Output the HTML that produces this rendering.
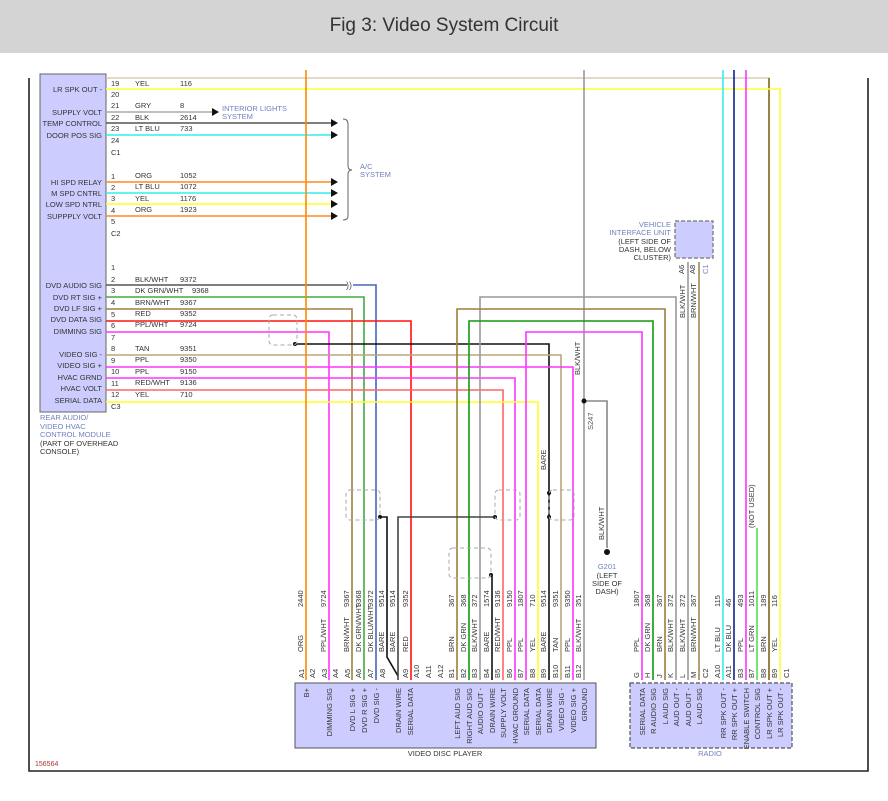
<!DOCTYPE html>
<html><head><meta charset="utf-8"><style>
html,body{margin:0;padding:0;background:#fff;}
svg{display:block;font-family:"Liberation Sans",Arial,sans-serif;}
.t{font-size:7.5px;fill:#333;}
.b{font-size:7.5px;fill:#7080c0;}
.w{fill:none;stroke-width:1.6;}
</style></head><body>
<svg width="888" height="801" viewBox="0 0 888 801" xmlns="http://www.w3.org/2000/svg">
<rect x="0" y="0" width="888" height="53" fill="#d4d4d4"/>
<text x="444" y="31" font-size="19" fill="#333" text-anchor="middle">Fig 3: Video System Circuit</text>
<!-- frame -->
<path d="M29 78 V771 H868 V78" fill="none" stroke="#222" stroke-width="1.6"/>
<!-- module -->
<rect x="40" y="74" width="66" height="338" fill="#ccccff" stroke="#666" stroke-width="1"/>
<g class="t" text-anchor="end">
<text x="102" y="92">LR SPK OUT -</text><text x="102" y="115">SUPPLY VOLT</text><text x="102" y="126">TEMP CONTROL</text><text x="102" y="138">DOOR POS SIG</text>
<text x="102" y="185">HI SPD RELAY</text><text x="102" y="196">M SPD CNTRL</text><text x="102" y="207">LOW SPD NTRL</text><text x="102" y="219">SUPPPLY VOLT</text>
<text x="102" y="288">DVD AUDIO SIG</text><text x="102" y="300">DVD RT SIG +</text><text x="102" y="311">DVD LF SIG +</text><text x="102" y="322">DVD DATA SIG</text><text x="102" y="334">DIMMING SIG</text>
<text x="102" y="357">VIDEO SIG -</text><text x="102" y="368">VIDEO SIG +</text><text x="102" y="380">HVAC GRND</text><text x="102" y="391">HVAC VOLT</text><text x="102" y="403">SERIAL DATA</text>
</g>
<g class="b"><text x="40" y="420">REAR AUDIO/</text><text x="40" y="429">VIDEO HVAC</text><text x="40" y="437">CONTROL MODULE</text></g>
<g class="t"><text x="40" y="446">(PART OF OVERHEAD</text><text x="40" y="454">CONSOLE)</text></g>
<g class="t">
<text x="111" y="86">19</text><text x="111" y="97">20</text><text x="111" y="108">21</text><text x="111" y="120">22</text><text x="111" y="131">23</text><text x="111" y="143">24</text><text x="111" y="155">C1</text>
<text x="111" y="179">1</text><text x="111" y="190">2</text><text x="111" y="201">3</text><text x="111" y="213">4</text><text x="111" y="224">5</text><text x="111" y="236">C2</text>
<text x="111" y="270">1</text><text x="111" y="282">2</text><text x="111" y="293">3</text><text x="111" y="305">4</text><text x="111" y="317">5</text><text x="111" y="328">6</text><text x="111" y="340">7</text><text x="111" y="351">8</text><text x="111" y="363">9</text><text x="111" y="374">10</text><text x="111" y="386">11</text><text x="111" y="397">12</text><text x="111" y="409">C3</text>
<text x="135" y="86">YEL</text><text x="180" y="86">116</text>
<text x="135" y="108">GRY</text><text x="180" y="108">8</text>
<text x="135" y="120">BLK</text><text x="180" y="120">2614</text>
<text x="135" y="131">LT BLU</text><text x="180" y="131">733</text>
<text x="135" y="178">ORG</text><text x="180" y="178">1052</text>
<text x="135" y="189">LT BLU</text><text x="180" y="189">1072</text>
<text x="135" y="201">YEL</text><text x="180" y="201">1176</text>
<text x="135" y="212">ORG</text><text x="180" y="212">1923</text>
<text x="135" y="282">BLK/WHT</text><text x="180" y="282">9372</text>
<text x="135" y="293">DK GRN/WHT</text><text x="192" y="293">9368</text>
<text x="135" y="305">BRN/WHT</text><text x="180" y="305">9367</text>
<text x="135" y="316">RED</text><text x="180" y="316">9352</text>
<text x="135" y="327">PPL/WHT</text><text x="180" y="327">9724</text>
<text x="135" y="351">TAN</text><text x="180" y="351">9351</text>
<text x="135" y="362">PPL</text><text x="180" y="362">9350</text>
<text x="135" y="374">PPL</text><text x="180" y="374">9150</text>
<text x="135" y="385">RED/WHT</text><text x="180" y="385">9136</text>
<text x="135" y="397">YEL</text><text x="180" y="397">710</text>
</g>
<g class="b"><text x="222" y="111">INTERIOR LIGHTS</text><text x="222" y="119">SYSTEM</text><text x="360" y="169">A/C</text><text x="360" y="177">SYSTEM</text></g>
<!-- A/C brace -->
<path d="M343 119 Q348 119 348 124 V166 Q348 170 352 170 Q348 170 348 174 V216 Q348 220 343 220" fill="none" stroke="#666" stroke-width="1"/>
<!-- horizontal wires -->
<g class="w">
<path d="M106 78 H769 V680" stroke="#d8ceb0"/>
<path d="M769 78 V680" stroke="#8a6a20"/>
<path d="M106 89 H780 V680" stroke="#ffff33"/>
<path d="M106 112 H212" stroke="#aaa"/>
<path d="M106 123 H331" stroke="#555"/>
<path d="M106 135 H331" stroke="#33eeee"/>
<path d="M106 182 H331" stroke="#ff8822"/>
<path d="M106 193 H331" stroke="#33eeee"/>
<path d="M106 204 H331" stroke="#ffff22"/>
<path d="M106 216 H331" stroke="#ff8822"/>
<path d="M106 285 H347" stroke="#555"/>
<path d="M353 285 H376 V680" stroke="#4466bb"/>
<path d="M106 297 H364 V680" stroke="#44aa44"/>
<path d="M106 309 H352 V680" stroke="#9c8040"/>
<path d="M106 321 H411 V680" stroke="#ff1111"/>
<path d="M106 332 H329 V680" stroke="#ff33ff"/>
<path d="M295 344 H549 V680" stroke="#111"/>
<path d="M106 355 H561 V680" stroke="#b8a878"/>
<path d="M106 367 H573 V680" stroke="#ff33ff"/>
<path d="M106 378 H515 V680" stroke="#ff33ff"/>
<path d="M106 390 H503 V680" stroke="#ff6666"/>
<path d="M106 402 H538 V680" stroke="#ffff22"/>
<path d="M306 70 V680" stroke="#ff8800"/>
<path d="M584 70 V680" stroke="#999"/>
<path d="M480 680 V297 H676 V680" stroke="#999"/>
<path d="M457 680 V309 H665 V680" stroke="#9c7f3a"/>
<path d="M469 680 V321 H653 V680" stroke="#119911"/>
<path d="M526 680 V332 H642 V680" stroke="#ff33ff"/>
<path d="M688 262 V680" stroke="#999"/>
<path d="M699 262 V680" stroke="#a08850"/>
<path d="M723 70 V680" stroke="#33eeee"/>
<path d="M734 70 V680" stroke="#112288"/>
<path d="M746 70 V680" stroke="#ff33ff"/>
<path d="M757 528 V680" stroke="#55dd55"/>
<path d="M380 517 H387 V657 L398 676" stroke="#111"/>
<path d="M398 680 V517 H495" stroke="#444"/>
<path d="M492 680 V575" stroke="#111"/>
<path d="M584 401 H607 V548" stroke="#888"/>
</g>
<!-- arrows -->
<g fill="#111">
<path d="M212 108 l7 4 l-7 4z"/>
<path d="M331 119 l7 4 l-7 4z"/><path d="M331 131 l7 4 l-7 4z"/>
<path d="M331 178 l7 4 l-7 4z"/><path d="M331 189 l7 4 l-7 4z"/><path d="M331 200 l7 4 l-7 4z"/><path d="M331 212 l7 4 l-7 4z"/>
<circle cx="295" cy="344" r="2"/><circle cx="380" cy="517" r="2"/><circle cx="495" cy="517" r="2"/><circle cx="549" cy="493" r="2"/><circle cx="549" cy="517" r="2"/><circle cx="491" cy="575" r="2"/><circle cx="584" cy="401" r="2.5"/><circle cx="607" cy="552" r="3"/>
</g>
<text x="346" y="288" font-size="9" fill="#555">))</text>
<!-- shields -->
<g fill="none" stroke="#aaa" stroke-dasharray="4,3" stroke-width="1">
<rect x="269" y="315" width="28" height="30" rx="4"/>
<rect x="346" y="490" width="34" height="30" rx="4"/>
<rect x="495" y="490" width="25" height="30" rx="4"/>
<rect x="549" y="490" width="25" height="30" rx="4"/>
<rect x="449" y="548" width="42" height="30" rx="4"/>
</g>
<!-- vertical labels center -->
<g class="t">
<text transform="translate(580,375) rotate(-90)">BLK/WHT</text>
<text transform="translate(593,430) rotate(-90)" fill="#555">S247</text>
<text transform="translate(546,470) rotate(-90)">BARE</text>
<text transform="translate(604,540) rotate(-90)">BLK/WHT</text>
<text transform="translate(754,528) rotate(-90)">(NOT USED)</text>
<text transform="translate(685,318) rotate(-90)">BLK/WHT</text>
<text transform="translate(696,318) rotate(-90)">BRN/WHT</text>
<text transform="translate(684,274) rotate(-90)">A6</text>
<text transform="translate(695,274) rotate(-90)">A8</text>
<text transform="translate(708,274) rotate(-90)" fill="#7080c0">C1</text>
</g>
<text x="607" y="569" class="b" text-anchor="middle">G201</text>
<g class="t" text-anchor="middle"><text x="607" y="578">(LEFT</text><text x="607" y="586">SIDE OF</text><text x="607" y="594">DASH)</text></g>
<!-- VIU -->
<rect x="675" y="221" width="38" height="37" fill="#ccccff" stroke="#888" stroke-dasharray="4,2" stroke-width="1.5"/>
<g class="b" text-anchor="end"><text x="671" y="227">VEHICLE</text><text x="671" y="235">INTERFACE UNIT</text></g>
<g class="t" text-anchor="end"><text x="671" y="244">(LEFT SIDE OF</text><text x="671" y="252">DASH, BELOW</text><text x="671" y="260">CLUSTER)</text></g>
<!-- player box -->
<rect x="295" y="683" width="301" height="65" fill="#ccccff" stroke="#555" stroke-width="1"/>
<text x="445" y="756" class="t" text-anchor="middle">VIDEO DISC PLAYER</text>
<rect x="630" y="683" width="162" height="65" fill="#ccccff" stroke="#555" stroke-dasharray="4,2" stroke-width="1.2"/>
<text x="710" y="756" class="b" text-anchor="middle">RADIO</text>
<text x="35" y="766" font-size="7" fill="#a33">156564</text>
<g class="t" id="pl"></g>
<g class="t">
<!-- player labels: number(bottom 607), color(bottom 652), pin(bottom 677), box(top 688) -->
<text transform="translate(303,607) rotate(-90)">2440</text><text transform="translate(303,652) rotate(-90)">ORG</text>
<text transform="translate(326,607) rotate(-90)">9724</text><text transform="translate(326,652) rotate(-90)">PPL/WHT</text>
<text transform="translate(349,607) rotate(-90)">9367</text><text transform="translate(349,652) rotate(-90)">BRN/WHT</text>
<text transform="translate(361,607) rotate(-90)">9368</text><text transform="translate(361,652) rotate(-90)">DK GRN/WHT</text>
<text transform="translate(373,607) rotate(-90)">9372</text><text transform="translate(373,652) rotate(-90)">DK BLU/WHT</text>
<text transform="translate(384,607) rotate(-90)">9514</text><text transform="translate(384,652) rotate(-90)">BARE</text>
<text transform="translate(395,607) rotate(-90)">9514</text><text transform="translate(395,652) rotate(-90)">BARE</text>
<text transform="translate(408,607) rotate(-90)">9352</text><text transform="translate(408,652) rotate(-90)">RED</text>
<text transform="translate(454,607) rotate(-90)">367</text><text transform="translate(454,652) rotate(-90)">BRN</text>
<text transform="translate(466,607) rotate(-90)">368</text><text transform="translate(466,652) rotate(-90)">DK GRN</text>
<text transform="translate(477,607) rotate(-90)">372</text><text transform="translate(477,652) rotate(-90)">BLK/WHT</text>
<text transform="translate(489,607) rotate(-90)">1574</text><text transform="translate(489,652) rotate(-90)">BARE</text>
<text transform="translate(500,607) rotate(-90)">9136</text><text transform="translate(500,652) rotate(-90)">RED/WHT</text>
<text transform="translate(512,607) rotate(-90)">9150</text><text transform="translate(512,652) rotate(-90)">PPL</text>
<text transform="translate(523,607) rotate(-90)">1807</text><text transform="translate(523,652) rotate(-90)">PPL</text>
<text transform="translate(535,607) rotate(-90)">710</text><text transform="translate(535,652) rotate(-90)">YEL</text>
<text transform="translate(546,607) rotate(-90)">9514</text><text transform="translate(546,652) rotate(-90)">BARE</text>
<text transform="translate(558,607) rotate(-90)">9351</text><text transform="translate(558,652) rotate(-90)">TAN</text>
<text transform="translate(570,607) rotate(-90)">9350</text><text transform="translate(570,652) rotate(-90)">PPL</text>
<text transform="translate(581,607) rotate(-90)">351</text><text transform="translate(581,652) rotate(-90)">BLK/WHT</text>
<text transform="translate(304,678) rotate(-90)">A1</text><text transform="translate(315,678) rotate(-90)">A2</text><text transform="translate(327,678) rotate(-90)">A3</text><text transform="translate(338,678) rotate(-90)">A4</text><text transform="translate(350,678) rotate(-90)">A5</text><text transform="translate(361,678) rotate(-90)">A6</text><text transform="translate(373,678) rotate(-90)">A7</text><text transform="translate(385,678) rotate(-90)">A8</text><text transform="translate(408,678) rotate(-90)">A9</text><text transform="translate(419,678) rotate(-90)">A10</text><text transform="translate(431,678) rotate(-90)">A11</text><text transform="translate(443,678) rotate(-90)">A12</text>
<text transform="translate(454,678) rotate(-90)">B1</text><text transform="translate(466,678) rotate(-90)">B2</text><text transform="translate(477,678) rotate(-90)">B3</text><text transform="translate(489,678) rotate(-90)">B4</text><text transform="translate(500,678) rotate(-90)">B5</text><text transform="translate(512,678) rotate(-90)">B6</text><text transform="translate(523,678) rotate(-90)">B7</text><text transform="translate(535,678) rotate(-90)">B8</text><text transform="translate(546,678) rotate(-90)">B9</text><text transform="translate(558,678) rotate(-90)">B10</text><text transform="translate(570,678) rotate(-90)">B11</text><text transform="translate(581,678) rotate(-90)">B12</text>
</g>
<g class="t" text-anchor="end">
<text transform="translate(309,688) rotate(-90)">B+</text>
<text transform="translate(332,688) rotate(-90)">DIMMING SIG</text>
<text transform="translate(355,688) rotate(-90)">DVD L SIG +</text>
<text transform="translate(367,688) rotate(-90)">DVD R SIG +</text>
<text transform="translate(379,688) rotate(-90)">DVD SIG -</text>
<text transform="translate(401,688) rotate(-90)">DRAIN WIRE</text>
<text transform="translate(413,688) rotate(-90)">SERIAL DATA</text>
<text transform="translate(460,688) rotate(-90)">LEFT AUD SIG</text>
<text transform="translate(472,688) rotate(-90)">RIGHT AUD SIG</text>
<text transform="translate(483,688) rotate(-90)">AUDIO OUT -</text>
<text transform="translate(495,688) rotate(-90)">DRAIN WIRE</text>
<text transform="translate(506,688) rotate(-90)">SUPPLY VOLT</text>
<text transform="translate(518,688) rotate(-90)">HVAC GROUND</text>
<text transform="translate(529,688) rotate(-90)">SERIAL DATA</text>
<text transform="translate(541,688) rotate(-90)">SERIAL DATA</text>
<text transform="translate(552,688) rotate(-90)">DRAIN WIRE</text>
<text transform="translate(564,688) rotate(-90)">VIDEO SIG -</text>
<text transform="translate(576,688) rotate(-90)">VIDEO SIG +</text>
<text transform="translate(587,688) rotate(-90)">GROUND</text>
<text transform="translate(645,688) rotate(-90)">SERIAL DATA</text>
<text transform="translate(656,688) rotate(-90)">R AUDIO SIG</text>
<text transform="translate(668,688) rotate(-90)">L AUD SIG</text>
<text transform="translate(679,688) rotate(-90)">AUD OUT -</text>
<text transform="translate(691,688) rotate(-90)">AUD OUT -</text>
<text transform="translate(702,688) rotate(-90)">L AUD SIG</text>
<text transform="translate(726,688) rotate(-90)">RR SPK OUT -</text>
<text transform="translate(737,688) rotate(-90)">RR SPK OUT +</text>
<text transform="translate(749,688) rotate(-90)">ENABLE SWITCH</text>
<text transform="translate(760,688) rotate(-90)">CONTROL SIG</text>
<text transform="translate(772,688) rotate(-90)">LR SPK OUT +</text>
<text transform="translate(783,688) rotate(-90)">LR SPK OUT -</text>
</g>
<g class="t">
<text transform="translate(639,607) rotate(-90)">1807</text><text transform="translate(639,652) rotate(-90)">PPL</text>
<text transform="translate(650,607) rotate(-90)">368</text><text transform="translate(650,652) rotate(-90)">DK GRN</text>
<text transform="translate(662,607) rotate(-90)">367</text><text transform="translate(662,652) rotate(-90)">BRN</text>
<text transform="translate(673,607) rotate(-90)">372</text><text transform="translate(673,652) rotate(-90)">BLK/WHT</text>
<text transform="translate(685,607) rotate(-90)">372</text><text transform="translate(685,652) rotate(-90)">BLK/WHT</text>
<text transform="translate(696,607) rotate(-90)">367</text><text transform="translate(696,652) rotate(-90)">BRN/WHT</text>
<text transform="translate(720,607) rotate(-90)">115</text><text transform="translate(720,652) rotate(-90)">LT BLU</text>
<text transform="translate(731,607) rotate(-90)">46</text><text transform="translate(731,652) rotate(-90)">DK BLU</text>
<text transform="translate(743,607) rotate(-90)">493</text><text transform="translate(743,652) rotate(-90)">PPL</text>
<text transform="translate(754,607) rotate(-90)">1011</text><text transform="translate(754,652) rotate(-90)">LT GRN</text>
<text transform="translate(766,607) rotate(-90)">189</text><text transform="translate(766,652) rotate(-90)">BRN</text>
<text transform="translate(777,607) rotate(-90)">116</text><text transform="translate(777,652) rotate(-90)">YEL</text>
<text transform="translate(639,678) rotate(-90)">G</text><text transform="translate(650,678) rotate(-90)">H</text><text transform="translate(662,678) rotate(-90)">J</text><text transform="translate(673,678) rotate(-90)">K</text><text transform="translate(685,678) rotate(-90)">L</text><text transform="translate(696,678) rotate(-90)">M</text><text transform="translate(708,678) rotate(-90)">C2</text><text transform="translate(720,678) rotate(-90)">A10</text><text transform="translate(731,678) rotate(-90)">A11</text><text transform="translate(743,678) rotate(-90)">B3</text><text transform="translate(754,678) rotate(-90)">B7</text><text transform="translate(766,678) rotate(-90)">B8</text><text transform="translate(777,678) rotate(-90)">B9</text><text transform="translate(789,678) rotate(-90)">C1</text>
</g>
</svg>
</body></html>
